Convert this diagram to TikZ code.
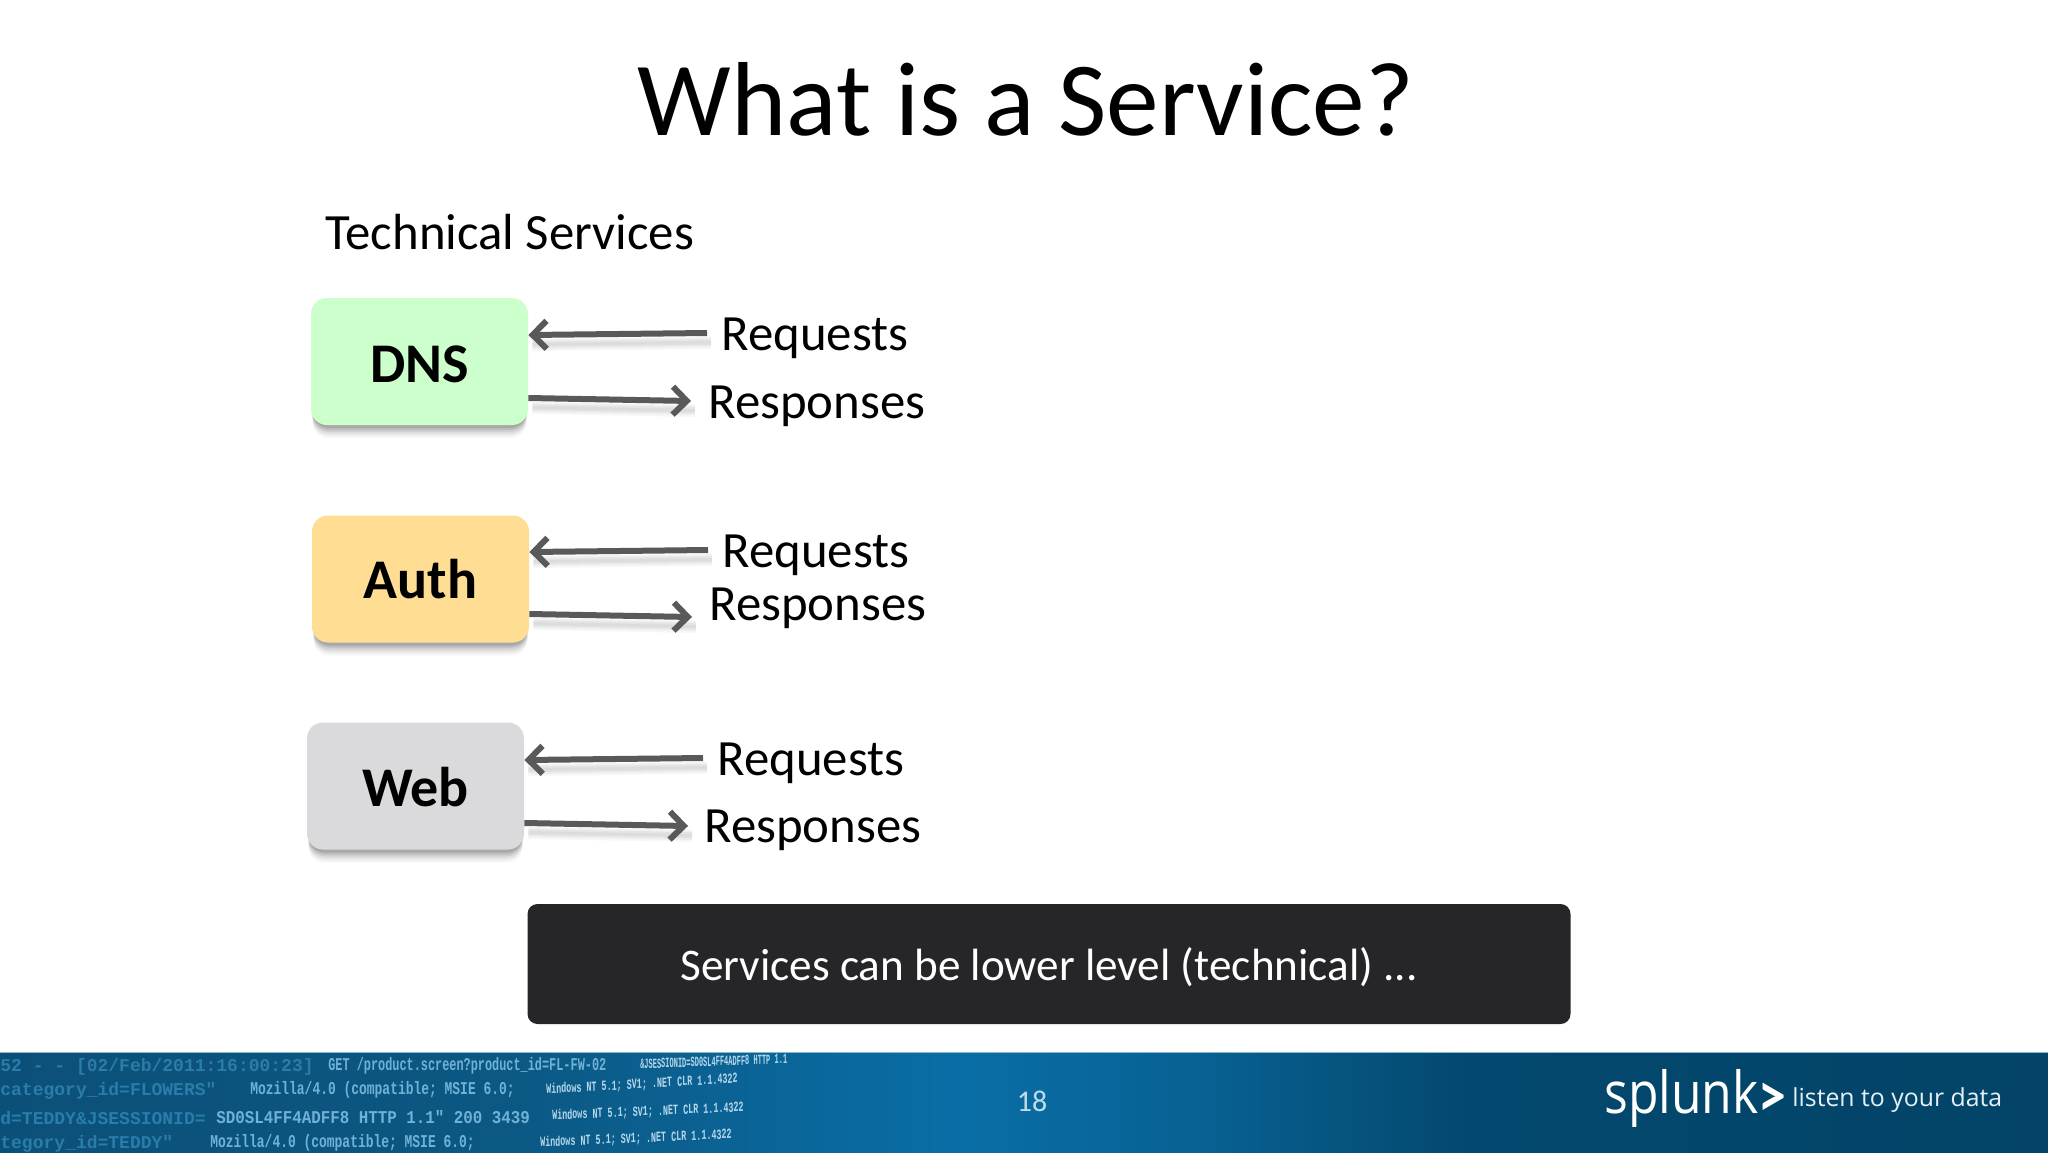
\documentclass[tikz,border=0pt]{standalone}
\usepackage{fontspec}
\setmainfont{Carlito}
\newfontfamily\logfont{Liberation Mono}
\newfontfamily\logofont{Open Sans}
\usetikzlibrary{arrows.meta,calc}
\definecolor{arrowgrey}{HTML}{595959}
\definecolor{darkbar}{HTML}{262628}
\definecolor{dnsfill}{HTML}{CCFFCC}
\definecolor{authfill}{HTML}{FFDE94}
\definecolor{webfill}{HTML}{DADADC}
\definecolor{logA}{HTML}{2A7CAB}
\definecolor{logB}{HTML}{6FB2D8}
\definecolor{logC}{HTML}{B5D8EC}
\definecolor{fa}{HTML}{0B5078}
\definecolor{fb}{HTML}{0B5884}
\definecolor{fc}{HTML}{0A6EA6}
\definecolor{fd}{HTML}{086294}
\definecolor{fe}{HTML}{03486E}
\definecolor{ff}{HTML}{034468}
\pgfdeclarehorizontalshading{footshade}{100bp}{
 color(0bp)=(fa);
 color(25bp)=(fa);
 color(37.5bp)=(fb);
 color(48.5bp)=(fc);
 color(54bp)=(fd);
 color(61bp)=(fe);
 color(75bp)=(ff);
 color(100bp)=(ff)}
\tikzset{
 x=0.5pt,y=-0.5pt,
 svcbox/.style={rounded corners=8pt,minimum width=108.5pt,minimum height=63.5pt,inner sep=0pt,font=\bfseries\fontsize{28}{32}\selectfont},
 lbl/.style={anchor=west,inner sep=0pt,font=\fontsize{25.4}{30}\selectfont},
 flow/.style={draw=arrowgrey,line width=3pt,-{Straight Barb[length=7pt,width=14pt,line width=3pt]}},
 logline/.style={anchor=west,inner sep=0pt,font=\logfont\bfseries\fontsize{9}{10}\selectfont},
 logtiny/.style={logline,text=logC,font=\logfont\bfseries\fontsize{7}{8}\selectfont},
}
\newcommand{\boxshadow}[2]{%
 \foreach \d/\o in {13/.03,11/.04,9/.05,7/.07,5/.09,3/.11}
  \fill[black,opacity=\o,rounded corners=8pt] ($(#1,#2)+(-107,-63.5+\d)$) rectangle ($(#1,#2)+(107,63.5+\d)$);
}
\begin{document}
\begin{tikzpicture}
\useasboundingbox (0,0) rectangle (2048,1152);
\fill[white] (0,0) rectangle (2048,1152);

\node[inner sep=0pt,font=\fontsize{52.6}{60}\selectfont] (title) at (1026,99) {What is a Service?};
\node[lbl] (tech) at (325,232) {Technical Services};

% shadows
\boxshadow{419.5}{361.5}
\boxshadow{420.5}{579}
\boxshadow{415.5}{786}

\node[svcbox,fill=dnsfill] (dns) at (419.5,361.5) {\raisebox{-1.2pt}[\height][\depth]{DNS}};
\node[svcbox,fill=authfill] (auth) at (420.5,579) {Auth};
\node[svcbox,fill=webfill] (web) at (415.5,786) {\raisebox{-.5pt}[\height][\depth]{Web}};

% labels
\node[lbl] (rq1) at (721,338) {Requests};
\node[lbl] (rs1) at (708,406) {Responses};
\node[lbl] (rq2) at (722,555) {Requests};
\node[lbl] (rs2) at (709,608) {Responses};
\node[lbl] (rq3) at (717,763) {Requests};
\node[lbl] (rs3) at (704,830) {Responses};

% connector ends
\coordinate (a1) at (707,333); \coordinate (b1) at (dns.east |- 0,335);
\coordinate (a2) at (dns.east |- 0,398); \coordinate (b2) at (691,401);
\coordinate (a3) at (708,550); \coordinate (b3) at (auth.east |- 0,552);
\coordinate (a4) at (auth.east |- 0,614); \coordinate (b4) at (692,617);
\coordinate (a5) at (703,758); \coordinate (b5) at (web.east |- 0,760);
\coordinate (a6) at (web.east |- 0,823); \coordinate (b6) at (688,826);

\foreach \s/\e in {a1/b1,a2/b2,a3/b3,a4/b4,a5/b5,a6/b6}{
 \foreach \d/\o in {13/.03,11/.04,9/.05,7/.05}
  \draw[draw=black,opacity=\o,line width=3pt] ($(\s)+(4,\d)$) -- ($(\e)+(4,\d)$);
 \path[flow] (\s) -- (\e);
}

% dark banner
\node[fill=darkbar,rounded corners=5pt,minimum width=521.5pt,minimum height=60pt,inner sep=0pt,text=white,font=\fontsize{22.6}{27}\selectfont] (banner) at (1049,964) {\raisebox{-1.3pt}[\height][\depth]{Services can be lower level (technical) ...}};

% footer
\shade[shading=footshade] (0,1052) rectangle (2048,1152);
\draw[draw=white!45!logA,line width=.8pt] (0,1052.5) -- (2048,1052.5);
\begin{scope}
\clip (0,1053) rectangle (2048,1152);
\node[logline,text=logA] (l1a) at (0,1067) {52 - - [02/Feb/2011:16:00:23]};
\node[logline,text=logB,xscale=.66] (l1b) at (328,1066) {GET /product.screen?product\_id=FL-FW-02};
\node[logtiny,xscale=.5,rotate=1] (l1c) at (640,1064) {\&JSESSIONID=SD0SL4FF4ADFF8 HTTP 1.1};
\node[logline,text=logA] (l2a) at (0,1091) {category\_id=FLOWERS"};
\node[logline,text=logB,xscale=.72] (l2b) at (250,1090) {Mozilla/4.0 (compatible; MSIE 6.0;};
\node[logtiny,xscale=.6,rotate=2] (l2c) at (546,1090) {Windows NT 5.1; SV1; .NET CLR 1.1.4322};
\node[logline,text=logA] (l3a) at (0,1118) {d=TEDDY\&JSESSIONID=};
\node[logline,text=logB,xscale=.88] (l3b) at (216,1117) {SD0SL4FF4ADFF8 HTTP 1.1" 200 3439};
\node[logtiny,xscale=.6,rotate=1.5] (l3c) at (552,1116) {Windows NT 5.1; SV1; .NET CLR 1.1.4322};
\node[logline,text=logA] (l4a) at (0,1144) {tegory\_id=TEDDY"};
\node[logline,text=logB,xscale=.72] (l4b) at (210,1143) {Mozilla/4.0 (compatible; MSIE 6.0;};
\node[logtiny,xscale=.6,rotate=1.5] (l4c) at (540,1143) {Windows NT 5.1; SV1; .NET CLR 1.1.4322};
\end{scope}

\node[inner sep=0pt,text=white!72!logA,font=\fontsize{15}{18}\selectfont] (page) at (1032,1101) {18};

\node[anchor=west,inner sep=0pt,text=white,font=\logofont\fontsize{29}{32}\selectfont,xscale=.86] (logo) at (1604,1098) {splunk};
\node[anchor=west,inner sep=0pt,text=white,font=\bfseries\fontsize{31}{34}\selectfont,xscale=.9] (chev) at (1758,1100) {>};
\node[anchor=west,inner sep=0pt,text=white!88!logA,font=\logofont\fontsize{12.4}{15}\selectfont] (tag) at (1792,1100) {listen to your data};
\end{tikzpicture}
\end{document}
